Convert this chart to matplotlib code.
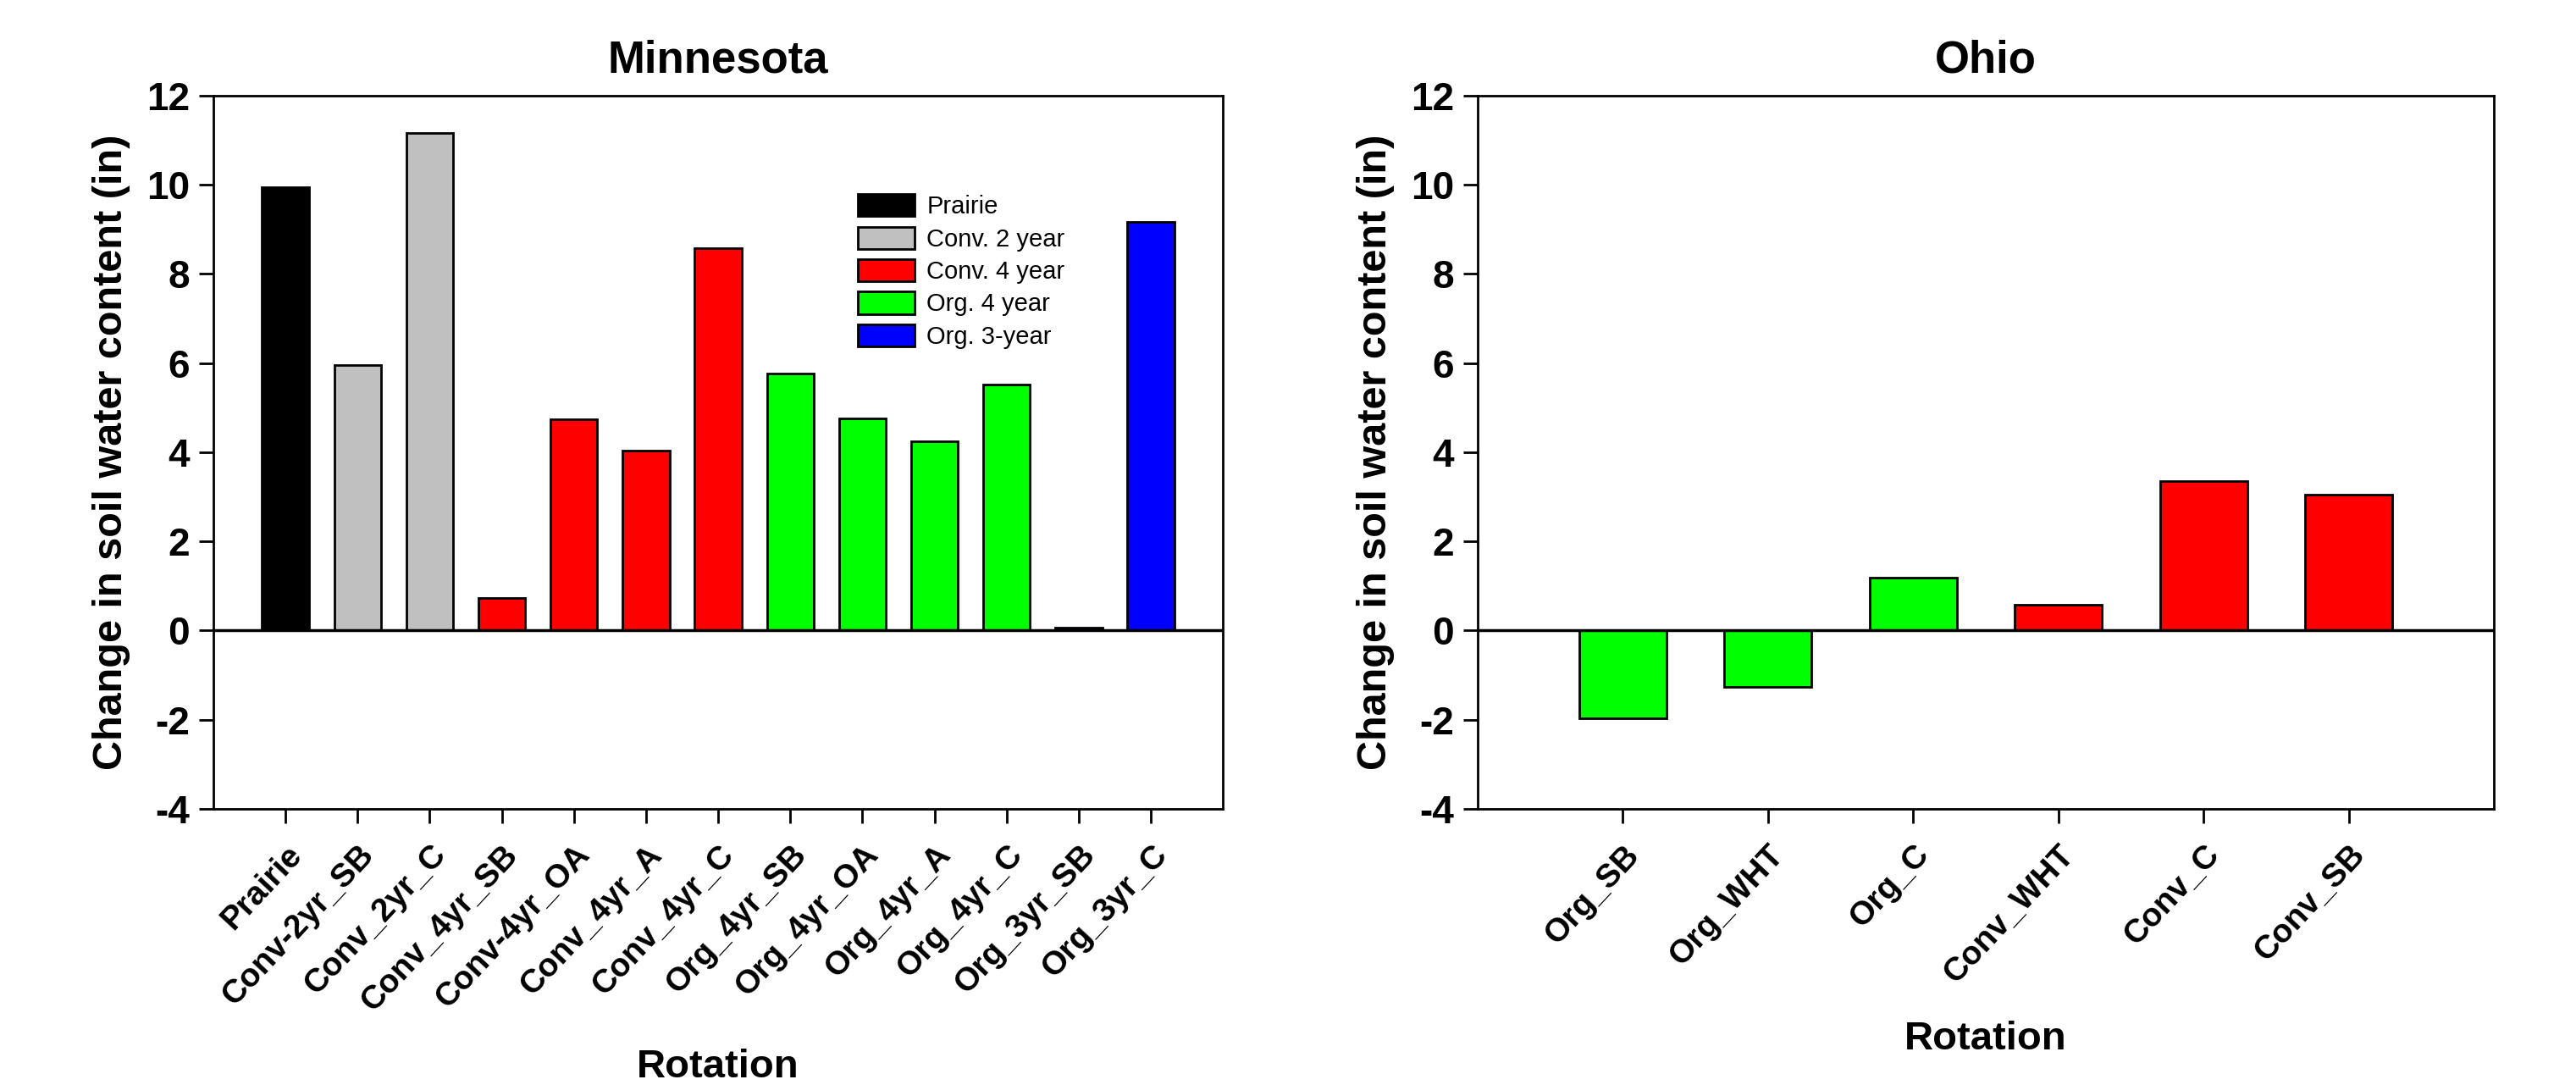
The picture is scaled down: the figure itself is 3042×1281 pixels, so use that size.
import matplotlib
matplotlib.use("Agg")
import matplotlib.pyplot as plt

plt.rcParams['font.family'] = ['Liberation Sans', 'DejaVu Sans']

# Minnesota
mn_rotations = ['Prairie', 'Conv-2yr_SB', 'Conv_2yr_C', 'Conv_4yr_SB', 'Conv-4yr_OA',
                'Conv_4yr_A', 'Conv_4yr_C', 'Org_4yr_SB', 'Org_4yr_OA', 'Org_4yr_A',
                'Org_4yr_C', 'Org_3yr_SB', 'Org_3yr_C']
mn_values = [9.95, 5.95, 11.17, 0.73, 4.74, 4.03, 8.57, 5.77, 4.76, 4.24, 5.52, 0.06, 9.16]
mn_groups = ['Prairie', 'Conv. 2 year', 'Conv. 2 year', 'Conv. 4 year', 'Conv. 4 year',
             'Conv. 4 year', 'Conv. 4 year', 'Org. 4 year', 'Org. 4 year', 'Org. 4 year',
             'Org. 4 year', 'Org. 3-year', 'Org. 3-year']

# Ohio
oh_rotations = ['Org_SB', 'Org_WHT', 'Org_C', 'Conv_WHT', 'Conv_C', 'Conv_SB']
oh_values = [-1.97, -1.26, 1.19, 0.58, 3.36, 3.05]
oh_groups = ['Org. 4 year', 'Org. 4 year', 'Org. 4 year', 'Conv. 4 year', 'Conv. 4 year', 'Conv. 4 year']

group_colors = {'Prairie': '#000000', 'Conv. 2 year': '#C0C0C0', 'Conv. 4 year': '#FF0000',
                'Org. 4 year': '#00FF00', 'Org. 3-year': '#0000FF'}
yticks = [-4, -2, 0, 2, 4, 6, 8, 10, 12]

fig = plt.figure(figsize=(30.42, 12.81), dpi=100)
ax1 = fig.add_axes([0.0828, 0.2545, 0.392, 0.6573])
ax2 = fig.add_axes([0.5736, 0.2545, 0.3945, 0.6573])


def draw(ax, names, values, groups, title, width, legend=False):
    seen = set()
    for i, (v, g) in enumerate(zip(values, groups)):
        lab = g if g not in seen else None
        seen.add(g)
        ax.bar(i, v, width=width, color=group_colors[g], edgecolor='black',
               linewidth=2, label=lab, zorder=2)
    ax.axhline(0, color='black', linewidth=2.5, zorder=3)
    ax.set_xlim(-1, len(names))
    ax.set_ylim(-4, 12)
    ax.set_yticks(yticks)
    ax.set_yticklabels([str(t) for t in yticks], fontsize=33, fontweight='bold')
    ax.set_xticks(range(len(names)))
    ax.set_xticklabels(names, rotation=47, ha='right', rotation_mode='anchor',
                       fontsize=28, fontweight='bold')
    ax.tick_params(axis='both', direction='out', length=12, width=2, pad=8)
    ax.tick_params(axis='x', pad=14)
    for s in ax.spines.values():
        s.set_linewidth(2)
    ax.set_title(title, fontsize=38, fontweight='bold', pad=20)
    ax.set_xlabel('Rotation', fontsize=34, fontweight='bold', labelpad=27)
    ax.set_ylabel('Change in soil water content (in)', fontsize=35, fontweight='bold', labelpad=14)
    if legend:
        ax.legend(loc='upper left', bbox_to_anchor=(0.616, 0.893), frameon=False,
                  fontsize=21, handlelength=2.3, handleheight=1.0, labelspacing=0.32,
                  handletextpad=0.5)


draw(ax1, mn_rotations, mn_values, mn_groups, 'Minnesota', 0.65, legend=True)
draw(ax2, oh_rotations, oh_values, oh_groups, 'Ohio', 0.6)

fig.savefig('out.png', dpi=100)
